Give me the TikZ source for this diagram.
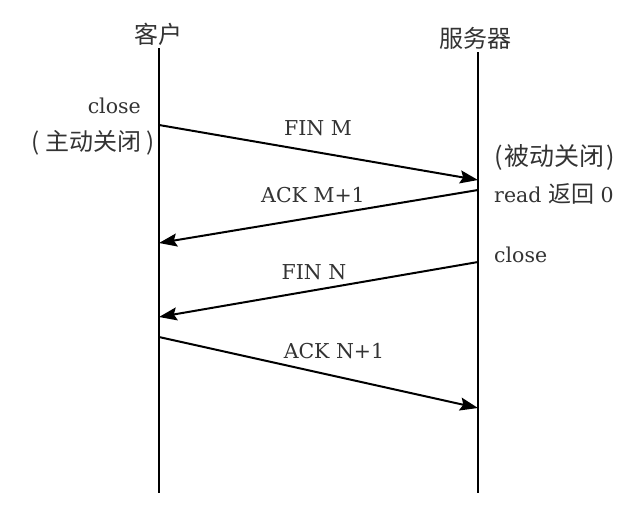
\documentclass[tikz,border=0pt]{standalone}
\usepackage{fontspec}
\setmainfont{DejaVu Serif}
\newfontfamily\cjk{Noto Sans CJK SC}
\usetikzlibrary{arrows.meta}
\definecolor{txt}{HTML}{333333}

\begin{document}
\begin{tikzpicture}[x=1pt,y=-1pt,>={Stealth[length=18pt,width=13pt,inset=3pt]},
  msg/.style={->,line width=2pt},
  life/.style={line width=2.4pt},
  lbl/.style={text=txt,inner sep=0pt,font=\fontsize{20.5}{24}\selectfont},
  zh/.style={text=txt,inner sep=0pt,font=\fontsize{24}{27}\selectfont\cjk}]
\useasboundingbox (0,0) rectangle (631,509);
% lifelines
\node[zh] (client) at (158,34) {客户};
\node[zh] (server) at (475,38) {服务器};
\coordinate (cbot) at (159,493);
\coordinate (sbot) at (478,493);
\draw[life] (client.south -| cbot) ++(0,3) coordinate (ctop) -- (cbot);
\draw[life] (server.south -| sbot) ++(0,3) coordinate (stop) -- (sbot);
% messages
\coordinate (m1s) at (159,125);
\coordinate (m1e) at (478,180);
\coordinate (m2s) at (478,190);
\coordinate (m2e) at (159,243);
\coordinate (m3s) at (478,262);
\coordinate (m3e) at (159,317);
\coordinate (m4s) at (159,337);
\coordinate (m4e) at (478,408);
\draw[msg] (m1s) -- (m1e);
\draw[msg] (m2s) -- (m2e);
\draw[msg] (m3s) -- (m3e);
\draw[msg] (m4s) -- (m4e);
\node[lbl] (fin1) at (318,128) {FIN M};
\node[lbl] (ack1) at (313,195) {ACK M+1};
\node[lbl] (fin2) at (314,272) {FIN N};
\node[lbl] (ack2) at (334,351) {ACK N+1};
% states
\node[lbl,anchor=base east] (cclose) at (141,113) {close};
\node[zh,anchor=east] (active) at (155,143) {( 主动关闭 )};
\node[zh,anchor=west,font=\fontsize{25}{28}\selectfont\cjk] (passive) at (494,157) {(\kern2pt 被动关闭\kern2pt)};
\node[lbl,anchor=base west] (read) at (494,202) {read {\cjk\fontsize{23}{26}\selectfont 返回} 0};
\node[lbl,anchor=base west] (sclose) at (494,262) {close};
\end{tikzpicture}
\end{document}
